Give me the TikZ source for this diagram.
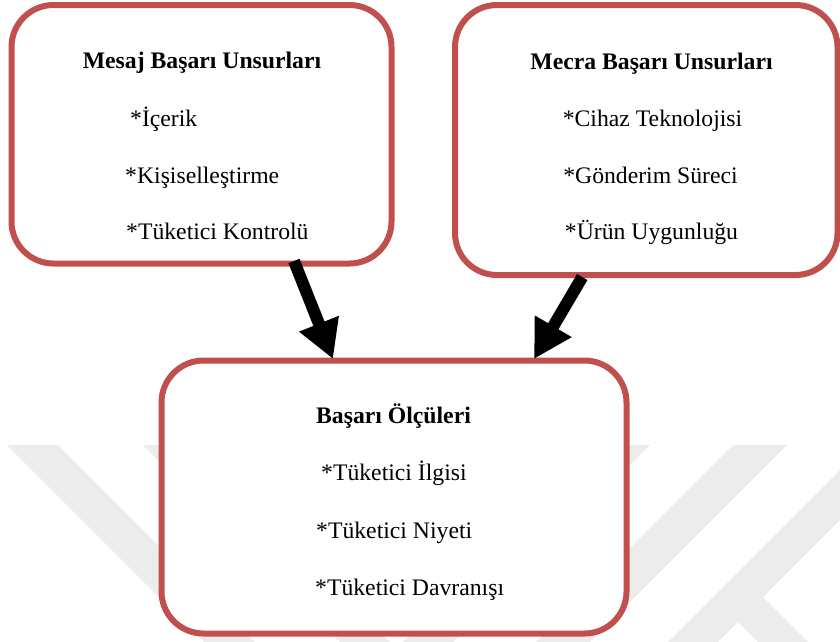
\documentclass[tikz,border=0pt]{standalone}
\usepackage{fontspec}
\setmainfont{Liberation Serif}
\usetikzlibrary{arrows.meta}
\definecolor{boxred}{RGB}{192,80,77}
\definecolor{wmgray}{RGB}{236,236,236}
\begin{document}
\begin{tikzpicture}[x=1pt,y=-1pt,
  box/.style={draw=boxred,line width=6pt,fill=white,rounded corners=42pt,inner sep=0pt,outer sep=0pt},
  head/.style={font=\fontsize{23.7}{28}\selectfont\bfseries,inner sep=0pt,anchor=base},
  itemc/.style={font=\fontsize{23.7}{28}\selectfont,inner sep=0pt,anchor=base},
  iteml/.style={font=\fontsize{23.7}{28}\selectfont,inner sep=0pt,anchor=base west},
  bigarrow/.style={line width=12pt,-{Triangle[length=38pt,width=40pt]}}]
\useasboundingbox (0,0) rectangle (840,641);
% faint background watermark
\begin{scope}
\clip (0,0) rectangle (840,641);
\fill[wmgray] (7,445) -- (58,445) -- (308,695) -- (257,695) -- cycle;
\fill[wmgray] (143,445) -- (193,445) -- (443,695) -- (393,695) -- cycle;
\fill[wmgray] (600,445) -- (650,445) -- (400,695) -- (350,695) -- cycle;
\fill[wmgray] (733,445) -- (787,445) -- (537,695) -- (483,695) -- cycle;
\fill[wmgray] (865,445) -- (915,445) -- (665,695) -- (615,695) -- cycle;
\fill[wmgray] (763,597) -- (866,700) -- (816,700) -- (738,622) -- cycle;
\end{scope}
% boxes
\node[box,minimum width=380pt,minimum height=258.5pt] (m) at (201.5,134.25) {};
\node[box,minimum width=382.5pt,minimum height=270pt] (c) at (646.25,140) {};
\node[box,minimum width=465pt,minimum height=273pt] (o) at (394,497) {};
% texts
\node[head] (mh) at (202,68) {Mesaj Başarı Unsurları};
\node[iteml] (m1) at (130,126) {*İçerik};
\node[iteml] (m2) at (125,183) {*Kişiselleştirme};
\node[iteml] (m3) at (126,239) {*Tüketici Kontrolü};
\node[head] (ch) at (651.5,69) {Mecra Başarı Unsurları};
\node[itemc] (c1) at (652.5,126) {*Cihaz Teknolojisi};
\node[itemc] (c2) at (650.5,183) {*Gönderim Süreci};
\node[itemc] (c3) at (651.5,239) {*Ürün Uygunluğu};
\node[head] (oh) at (393.5,423) {Başarı Ölçüleri};
\node[iteml] (o1) at (321,480) {*Tüketici İlgisi};
\node[iteml] (o2) at (316,538) {*Tüketici Niyeti};
\node[iteml] (o3) at (315,595) {*Tüketici Davranışı};
% arrows
\coordinate (a1s) at ([xshift=92.5pt,yshift=2.5pt]m.south);
\coordinate (a1e) at ([xshift=-61pt,yshift=1.5pt]o.north);
\coordinate (a2s) at ([xshift=-64pt,yshift=-2pt]c.south);
\coordinate (a2e) at ([xshift=140pt,yshift=1.5pt]o.north);
\draw[bigarrow] (a1s) -- (a1e);
\draw[bigarrow] (a2s) -- (a2e);
\end{tikzpicture}
\end{document}
